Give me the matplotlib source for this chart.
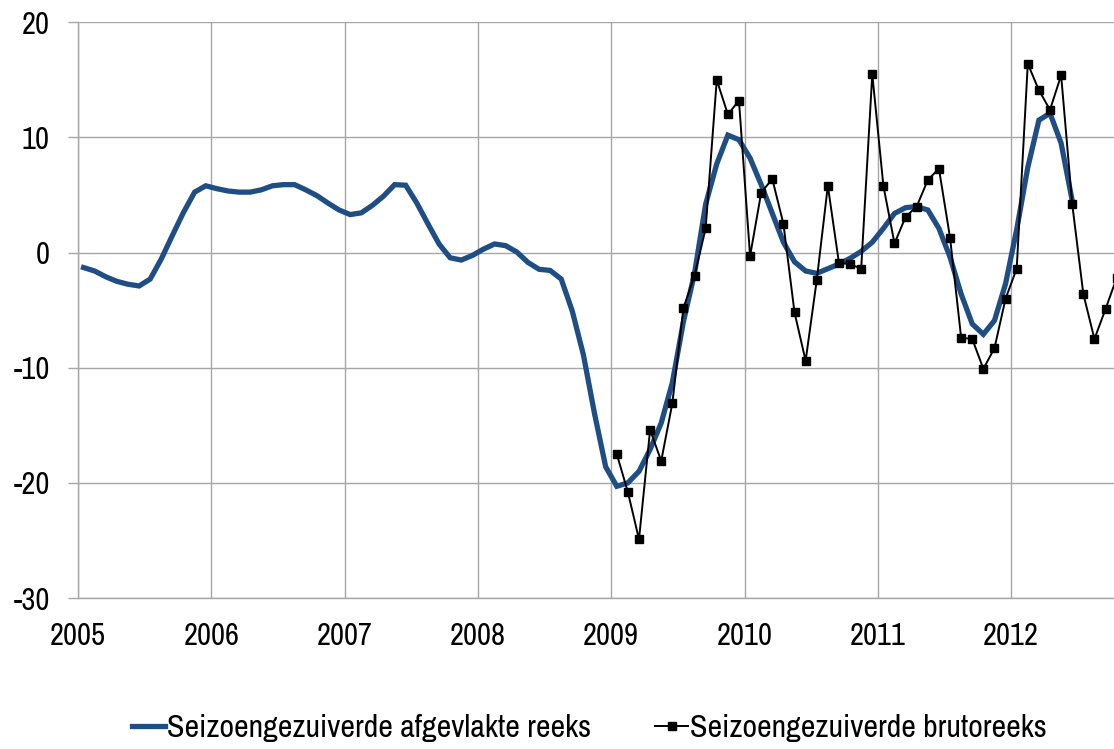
import matplotlib

matplotlib.use('Agg')
import matplotlib.pyplot as plt
import numpy as np

plt.rcParams['font.family'] = ['Archivo Narrow', 'DejaVu Sans']
plt.rcParams['axes.unicode_minus'] = False

# seasonally adjusted, smoothed series (monthly, Jan 2005 - Jun 2012)
smoothed = [
    -1.3, -1.6, -2.1, -2.5, -2.75, -2.9, -2.3, -0.55, 1.5, 3.5, 5.25, 5.8,
    5.55, 5.35, 5.25, 5.25, 5.45, 5.8, 5.9, 5.9, 5.45, 4.95, 4.3, 3.7,
    3.3, 3.45, 4.1, 4.9, 5.9, 5.85, 4.3, 2.5, 0.75, -0.45, -0.65, -0.25,
    0.3, 0.75, 0.6, 0.05, -0.85, -1.45, -1.55, -2.3, -5.1, -8.9, -14.0, -18.6,
    -20.3, -20.0, -19.0, -17.1, -14.8, -11.3, -6.0, -1.8, 4.2, 7.7, 10.2, 9.8,
    8.2, 5.9, 3.4, 0.9, -0.8, -1.6, -1.8, -1.4, -1.0, -0.5, 0.1, 0.9,
    2.1, 3.4, 3.9, 4.0, 3.7, 2.1, -0.4, -3.6, -6.2, -7.1, -5.9, -2.7,
    2.0, 7.4, 11.5, 12.1, 9.5, 4.5,
]
smoothed_start = 2005

# seasonally adjusted raw series (monthly, Jan 2009 - Oct 2012)
raw = [
    -17.5, -20.8, -24.9, -15.4, -18.1, -13.1, -4.8, -2.0, 2.1, 15.0, 12.0, 13.2,
    -0.3, 5.2, 6.4, 2.5, -5.2, -9.4, -2.4, 5.8, -0.9, -1.0, -1.4, 15.5,
    5.8, 0.8, 3.1, 4.0, 6.3, 7.3, 1.3, -7.4, -7.5, -10.1, -8.3, -4.0,
    -1.4, 16.4, 14.1, 12.4, 15.4, 4.2, -3.6, -7.5, -4.9, -2.2,
]
raw_start = 2009

years = list(range(2005, 2013))
yticks = [-30, -20, -10, 0, 10, 20]

label_smoothed = 'Seizoengezuiverde afgevlakte reeks'
label_raw = 'Seizoengezuiverde brutoreeks'


def month_axis(start, n):
    # each month plotted at its middle
    return start + (np.arange(n) + 0.5) / 12


fig = plt.figure(figsize=(11.14, 7.49), dpi=100)
ax = fig.add_axes([78 / 1114, 1 - 598 / 749, 1 - 78 / 1114, (598 - 22.3) / 749])

grid_col = '#a6a6a6'
ax.plot(month_axis(smoothed_start, len(smoothed)), smoothed, color='#1f4e85', lw=3.8,
        solid_joinstyle='miter', label=label_smoothed, zorder=3)
ax.plot(month_axis(raw_start, len(raw)), raw, color='black', lw=1.4, marker='s', ms=5.5,
        label=label_raw, zorder=4)

ax.set_xlim(2005, 2005 + 93.26 / 12)
ax.set_ylim(-30, 20)
ax.set_xticks(years)
ax.set_xticklabels([str(y) for y in years])
ax.set_yticks(yticks)

ax.grid(True, color=grid_col, lw=1.0)
ax.set_axisbelow(True)
for side in ['top', 'right']:
    ax.spines[side].set_visible(False)
for side in ['left', 'bottom']:
    ax.spines[side].set_color(grid_col)
    ax.spines[side].set_linewidth(1.0)

ax.tick_params(axis='y', length=7.2, width=1.0, color=grid_col, pad=13, labelsize=22)
ax.tick_params(axis='x', length=0, pad=17, labelsize=22)

fig.legend(loc='center', bbox_to_anchor=(0.529, 1 - 728 / 749), ncol=2, frameon=False,
           fontsize=23, handlelength=1.05, handletextpad=0.05, columnspacing=2.0,
           borderaxespad=0)

fig.savefig('out.png', dpi=100)
